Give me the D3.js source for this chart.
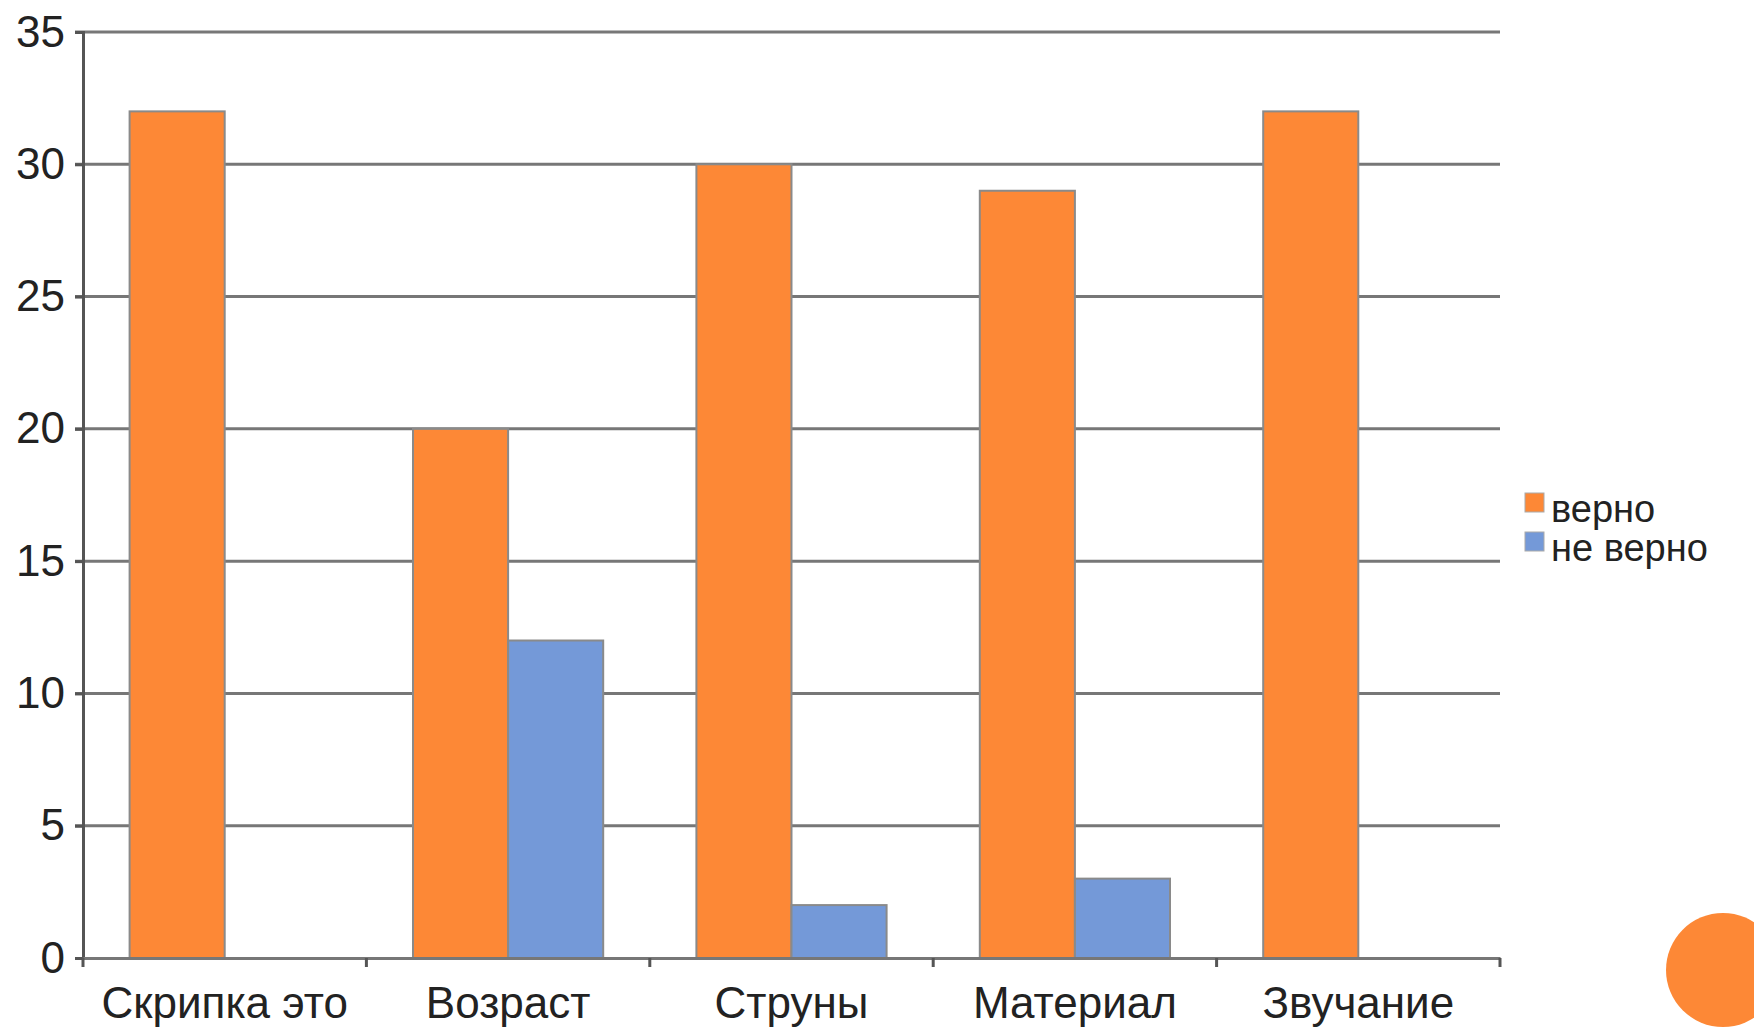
<html>
<meta charset="utf-8">
<head>
<script src="https://cdn.jsdelivr.net/npm/d3@7/dist/d3.min.js"></script>
<style>
  body { margin: 0; background: #fff; }
  text { font-family: "Liberation Sans", Arial, sans-serif; fill: #222; }
</style>
</head>
<body>
<div id="chart"></div>
<script>
var categories = ["Скрипка это", "Возраст", "Струны", "Материал", "Звучание"];
var seriesNames = ["верно", "не верно"];
var correct = [32, 20, 30, 29, 32];
var wrong = [0, 12, 2, 3, 0];
var yTicks = [0, 5, 10, 15, 20, 25, 30, 35];
var colors = ["#fd8836", "#7499d8"];

var W = 1754, H = 1029;
var mLeft = 83, mRight = 1500, mTop = 32, mBottom = 958;

var svg = d3.select("#chart").append("svg")
    .attr("width", W).attr("height", H);

var x0 = d3.scaleBand().domain(categories).range([mLeft, mRight]).padding(0);
var x1 = d3.scaleBand().domain(seriesNames)
    .range([0, x0.bandwidth()]).paddingInner(0).paddingOuter(0.49);
var y = d3.scaleLinear().domain([0, 35]).range([mBottom, mTop]);

// gridlines
svg.selectAll("line.grid").data(yTicks.slice(1)).enter().append("line")
    .attr("x1", mLeft - 8).attr("x2", mRight)
    .attr("y1", function(d) { return y(d); })
    .attr("y2", function(d) { return y(d); })
    .attr("stroke", "#777").attr("stroke-width", 3);

// y axis
var yAxis = svg.append("g").attr("transform", "translate(" + mLeft + ",0)")
    .call(d3.axisLeft(y).tickValues(yTicks).tickSize(8).tickPadding(10));
yAxis.select(".domain").attr("stroke", "#555").attr("stroke-width", 3);
yAxis.selectAll(".tick line").attr("stroke", "#555").attr("stroke-width", 3);
yAxis.selectAll("text").attr("font-size", 44).attr("fill", "#222")
    .attr("font-family", "Liberation Sans, Arial, sans-serif");

// bars
var rows = categories.map(function(c, i) {
    return { cat: c, vals: [correct[i], wrong[i]] };
});
var groups = svg.selectAll("g.cat").data(rows).enter().append("g")
    .attr("transform", function(d) { return "translate(" + x0(d.cat) + ",0)"; });
groups.selectAll("rect").data(function(d) {
        return d.vals.map(function(v, j) { return { name: seriesNames[j], v: v, j: j }; })
            .filter(function(e) { return e.v > 0; });
    })
    .enter().append("rect")
    .attr("x", function(d) { return x1(d.name); })
    .attr("width", x1.bandwidth())
    .attr("y", function(d) { return y(d.v); })
    .attr("height", function(d) { return y(0) - y(d.v); })
    .attr("fill", function(d) { return colors[d.j]; })
    .attr("stroke", "#8a8a8a").attr("stroke-width", 2);

// x axis
var xAxis = svg.append("g").attr("transform", "translate(0," + mBottom + ")")
    .call(d3.axisBottom(x0).tickSize(0).tickPadding(29));
xAxis.select(".domain").attr("stroke", "#777").attr("stroke-width", 3);
xAxis.selectAll("text").attr("font-size", 44).attr("fill", "#222")
    .attr("font-family", "Liberation Sans, Arial, sans-serif");
svg.selectAll("line.xtick").data(x0.domain().map(function(c) { return x0(c); }).concat([mRight]))
    .enter().append("line")
    .attr("x1", function(d) { return d; }).attr("x2", function(d) { return d; })
    .attr("y1", mBottom).attr("y2", mBottom + 9)
    .attr("stroke", "#555").attr("stroke-width", 3);

// legend
var legend = svg.append("g").attr("transform", "translate(1525,493)");
seriesNames.forEach(function(n, i) {
    legend.append("rect").attr("x", 0).attr("y", i * 39)
        .attr("width", 19).attr("height", 19)
        .attr("fill", colors[i]).attr("stroke", "#aaa").attr("stroke-width", 1);
    legend.append("text").attr("x", 26).attr("y", i * 39 + 29)
        .attr("font-size", 38).text(n);
});

// decorative circle
svg.append("circle").attr("cx", 1723).attr("cy", 970).attr("r", 57)
    .attr("fill", "#fd8836");
</script>
</body>
</html>
